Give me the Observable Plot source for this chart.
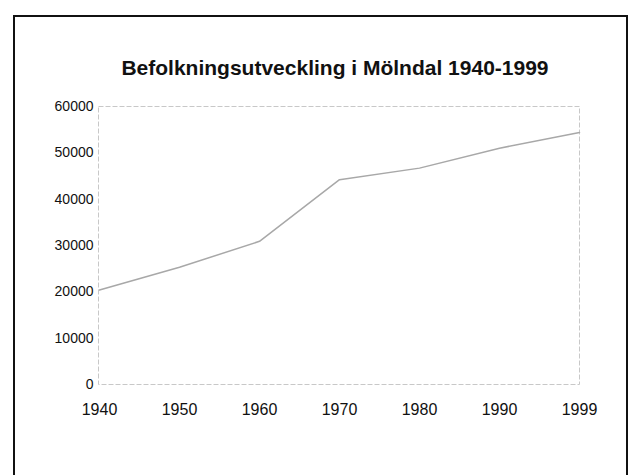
<!DOCTYPE html>
<html>
<head>
<meta charset="utf-8">
<script src="https://cdn.jsdelivr.net/npm/d3@7"></script>
<script src="https://cdn.jsdelivr.net/npm/@observablehq/plot@0.6"></script>
<style>
  html, body { margin: 0; padding: 0; background: #fff; }
  #wrap { position: relative; width: 631px; height: 475px; overflow: hidden; font-family: "Liberation Sans", Arial, sans-serif; }
  #box { position: absolute; left: 13px; top: 15px; width: 615px; height: 480px; border: 2px solid #111; box-sizing: border-box; }
  #title { position: absolute; left: 0; width: 670px; top: 55px; line-height: 26px; text-align: center; font-size: 21px; font-weight: bold; color: #111; }
  #chart { position: absolute; left: 0; top: 0; }
</style>
</head>
<body>
<div id="wrap">
  <div id="box"></div>
  <div id="title">Befolkningsutveckling i Mölndal 1940-1999</div>
  <div id="chart"></div>
</div>
<script>
const years = ["1940", "1950", "1960", "1970", "1980", "1990", "1999"];
const population = [20400, 25300, 30900, 44200, 46700, 51000, 54400];
const yTicks = [0, 10000, 20000, 30000, 40000, 50000, 60000];

const data = years.map((y, i) => ({year: y, value: population[i]}));

const chart = Plot.plot({
  width: 631,
  height: 475,
  marginLeft: 98,
  marginRight: 52,
  marginTop: 106,
  marginBottom: 91,
  style: {fontFamily: "'Liberation Sans', Arial, sans-serif", background: "transparent", color: "#111"},
  x: {type: "point", domain: years, padding: 0, label: null},
  y: {domain: [0, 60000], label: null},
  marks: [
    Plot.rect([0], {x1: 0, x2: 1, y1: 0, y2: 60000, fill: "#f8f8f8", xscale: null}),
    Plot.frame({stroke: "#c8c8c8", strokeWidth: 1, strokeDasharray: "5,2"}),
    Plot.axisY(yTicks, {tickSize: 0, tickPadding: 5, fontSize: 14, tickFormat: d => String(d)}),
    Plot.axisX(years, {tickSize: 0, tickPadding: 19, fontSize: 16}),
    Plot.line(data, {x: "year", y: "value", stroke: "#a8a8a8", strokeWidth: 1.5})
  ]
});
document.getElementById("chart").appendChild(chart);
</script>
</body>
</html>
